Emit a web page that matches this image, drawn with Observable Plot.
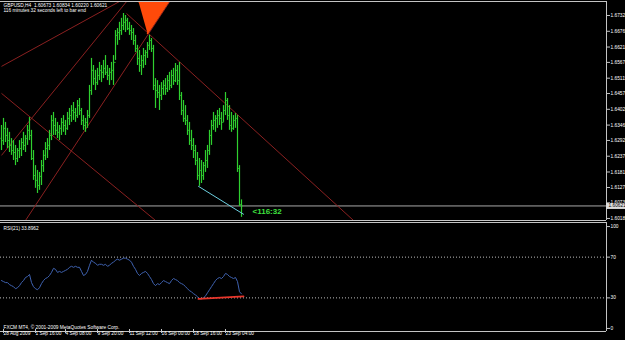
<!DOCTYPE html>
<html><head><meta charset="utf-8">
<script src="https://cdn.jsdelivr.net/npm/d3@7"></script>
<script src="https://cdn.jsdelivr.net/npm/@observablehq/plot@0.6"></script>
<style>
html,body{margin:0;padding:0;background:#000;}
#wrap{position:relative;width:625px;height:340px;background:#000;overflow:hidden;}
#main{position:absolute;left:0;top:0;}
#rsi{position:absolute;left:0;top:221px;}
svg{display:block;}
</style></head><body><div id="wrap"><div id="main"></div><div id="rsi"></div></div>
<script>
const symbolTitle = "GBPUSD,H4  1.60673 1.60834 1.60220 1.60621";
const timerText = "116 minutes 32 seconds left to bar end";
const rsiLabel = "RSI(21) 33.8962";
const countdown = "<116:32";
const copyright = "FXCM MT4, © 2001-2009 MetaQuotes Software Corp.";

const firstOpen = 1.6300;
const highs = [
 1.6345,1.6370,1.6356,1.6335,1.6321,1.6299,1.6292,1.6275,1.6264,1.6292,
 1.6299,1.6321,1.6310,1.6345,1.6373,1.6328,1.6257,1.6204,1.6187,1.6180,
 1.6222,1.6257,1.6285,1.6299,1.6328,1.6380,1.6391,1.6370,1.6356,1.6345,
 1.6370,1.6380,1.6363,1.6391,1.6405,1.6415,1.6426,1.6405,1.6433,1.6440,
 1.6405,1.6380,1.6370,1.6398,1.6486,1.6581,1.6556,1.6539,1.6546,1.6567,
 1.6556,1.6574,1.6591,1.6556,1.6546,1.6567,1.6591,1.6679,1.6686,1.6708,
 1.6722,1.6739,1.6732,1.6722,1.6708,1.6697,1.6686,1.6662,1.6627,1.6609,
 1.6591,1.6616,1.6609,1.6637,1.6662,1.6651,1.6627,1.6510,1.6503,1.6486,
 1.6496,1.6503,1.6510,1.6521,1.6532,1.6539,1.6546,1.6563,1.6556,1.6567,
 1.6461,1.6433,1.6415,1.6380,1.6356,1.6328,1.6299,1.6275,1.6250,1.6229,
 1.6222,1.6215,1.6257,1.6275,1.6328,1.6363,1.6391,1.6380,1.6398,1.6405,
 1.6391,1.6415,1.6461,1.6440,1.6415,1.6391,1.6380,1.6387,1.6380,1.6204,
 1.60834];
const lows = [
 1.6257,1.6275,1.6285,1.6264,1.6250,1.6240,1.6222,1.6204,1.6215,1.6229,
 1.6236,1.6257,1.6250,1.6275,1.6292,1.6222,1.6152,1.6124,1.6106,1.6117,
 1.6134,1.6180,1.6222,1.6229,1.6257,1.6292,1.6310,1.6310,1.6299,1.6292,
 1.6310,1.6321,1.6310,1.6328,1.6345,1.6356,1.6363,1.6356,1.6370,1.6380,
 1.6345,1.6328,1.6321,1.6335,1.6370,1.6451,1.6486,1.6468,1.6486,1.6503,
 1.6496,1.6510,1.6521,1.6503,1.6486,1.6503,1.6486,1.6574,1.6627,1.6644,
 1.6662,1.6679,1.6672,1.6679,1.6662,1.6644,1.6627,1.6602,1.6556,1.6532,
 1.6521,1.6546,1.6556,1.6581,1.6609,1.6602,1.6468,1.6405,1.6440,1.6398,
 1.6433,1.6451,1.6451,1.6461,1.6468,1.6475,1.6486,1.6496,1.6486,1.6433,
 1.6380,1.6356,1.6345,1.6310,1.6275,1.6257,1.6229,1.6204,1.6152,1.6131,
 1.6141,1.6152,1.6180,1.6194,1.6240,1.6275,1.6328,1.6321,1.6335,1.6345,
 1.6328,1.6356,1.6380,1.6363,1.6328,1.6321,1.6328,1.6335,1.6180,1.6060,
 1.60220];
const closes = [
 1.6292,1.6335,1.6310,1.6292,1.6275,1.6257,1.6250,1.6229,1.6257,1.6264,
 1.6285,1.6275,1.6299,1.6328,1.6310,1.6229,1.6169,1.6152,1.6134,1.6166,
 1.6204,1.6240,1.6264,1.6275,1.6310,1.6363,1.6345,1.6328,1.6321,1.6335,
 1.6356,1.6345,1.6335,1.6370,1.6380,1.6398,1.6391,1.6380,1.6415,1.6398,
 1.6363,1.6345,1.6356,1.6380,1.6468,1.6539,1.6510,1.6496,1.6521,1.6539,
 1.6532,1.6546,1.6532,1.6521,1.6532,1.6539,1.6567,1.6662,1.6672,1.6679,
 1.6697,1.6708,1.6715,1.6686,1.6679,1.6672,1.6644,1.6616,1.6581,1.6556,
 1.6574,1.6591,1.6602,1.6627,1.6644,1.6616,1.6486,1.6468,1.6461,1.6451,
 1.6475,1.6486,1.6475,1.6503,1.6486,1.6521,1.6503,1.6539,1.6503,1.6451,
 1.6398,1.6370,1.6363,1.6328,1.6292,1.6275,1.6257,1.6222,1.6169,1.6187,
 1.6169,1.6204,1.6222,1.6257,1.6310,1.6345,1.6363,1.6370,1.6380,1.6370,
 1.6356,1.6398,1.6433,1.6380,1.6345,1.6335,1.6363,1.6370,1.6194,1.60673,
 1.60621];
const rsiValues = [
 47,46,45,45,43,42,41,39,40,42,
 45,47,50,51,53,45,41,39,38,40,
 44,47,49,50,52,55,59,58,55,56,
 55,56,57,58,60,61,60,61,60,60,
 56,52,53,56,62,67,65,64,62,63,
 63,62,63,61,62,64,65,67,68,67,
 68,69,69,68,67,65,61,58,54,52,
 54,55,56,54,51,48,44,42,44,43,
 45,47,46,45,44,47,49,48,47,45,
 44,43,41,39,37,36,34,33,31,29,
 29,30,32,35,38,41,44,47,49,50,
 49,51,54,53,51,50,49,50,46,36,
 33.8962];

const bid = 1.60621;
const priceTicks = [1.67320,1.66765,1.66210,1.65670,1.65115,1.64575,1.64020,1.63465,1.62925,1.62370,1.61815,1.61270,1.60730,1.60180];
const rsiTicks = [0,30,70,100];
const rsiLevels = [30,70];
const timeTickBars = [0,16,31,47,63,79,95,111];
const timeTickLabels = ["28 Aug 2009","1 Sep 16:00","4 Sep 08:00","9 Sep 20:00","11 Sep 12:00","16 Sep 00:00","18 Sep 16:00","23 Sep 04:00"];

// trend lines (bar index, price)
const trendBar1 = [0, 0, 12, 62.5, 0];
const trendPrice1 = [1.6553, 1.6240, 1.6011, 1.6739, 1.6458];
const trendBar2 = [60, 63, 84.5, 176, 77];
const trendPrice2 = [1.6785, 1.6785, 1.6785, 1.6011, 1.6011];
const arrowBars = [68.5, 83.5, 73];
const arrowPrices = [1.6781, 1.6781, 1.6669];
const divBars = [98.5, 121];
const divPrices = [1.6131, 1.6033];
const divRsi = [29, 31.5];

// ---- build tables
const bars = highs.map((h, i) => ({i, high: h, low: lows[i], close: closes[i], open: i ? closes[i - 1] : firstOpen}));
const trendLines = trendBar1.map((b, k) => ({b1: b, p1: trendPrice1[k], b2: trendBar2[k], p2: trendPrice2[k]}));
const arrow = arrowBars.map((b, k) => ({bar: b, price: arrowPrices[k]}));
const divPriceLine = divBars.map((b, k) => ({bar: b, price: divPrices[k]}));
const divRsiLine = divBars.map((b, k) => ({bar: b, value: divRsi[k]}));
const rsiSeries = rsiValues.map((v, i) => ({i, v}));
const lastBar = bars.length - 1;
const labelOf = new Map(timeTickBars.map((b, k) => [b, timeTickLabels[k]]));

const X_DOMAIN = [-0.5, 302.5];
const PRICE_DOMAIN = [1.60109, 1.67812];
const RSI_DOMAIN = [-3, 104];
const FONT = "'Liberation Sans', Arial, sans-serif";
const GREEN = "#2fd02f";
const FRAME = "#c4c4c4";
const FS = 4.8;

const main = Plot.plot({
  width: 625, height: 221,
  marginLeft: 0, marginRight: 19, marginTop: 1, marginBottom: 1,
  style: {background: "#000", color: "#fff", fontFamily: FONT, fontSize: FS + "px"},
  x: {domain: X_DOMAIN, axis: null},
  y: {domain: PRICE_DOMAIN, axis: null},
  marks: [
    Plot.ruleY([bid], {stroke: "#a8a8a8"}),
    Plot.link(trendLines, {x1: "b1", y1: "p1", x2: "b2", y2: "p2", stroke: "#8a2020", clip: true}),
    Plot.ruleX(bars, {x: "i", y1: "low", y2: "high", stroke: GREEN, strokeWidth: 1.2}),
    Plot.link(bars, {x1: d => d.i - 0.5, x2: "i", y1: "open", y2: "open", stroke: GREEN}),
    Plot.link(bars, {x1: "i", x2: d => d.i + 0.5, y1: "close", y2: "close", stroke: GREEN}),
    Plot.line(arrow, {x: "bar", y: "price", fill: "#ff4a0a", stroke: "#ff4a0a", clip: true}),
    Plot.line(divPriceLine, {x: "bar", y: "price", stroke: "#6cd0e0", strokeWidth: 1}),
    Plot.text([countdown], {x: lastBar + 5.5, y: bid, dy: 5, textAnchor: "start", lineAnchor: "middle", fill: "#3fe03f", fontSize: 8, fontWeight: "bold"}),
    Plot.ruleY([PRICE_DOMAIN[1], PRICE_DOMAIN[0]], {stroke: FRAME}),
    Plot.ruleX([X_DOMAIN[1]], {stroke: FRAME}),
    Plot.axisY({anchor: "right", ticks: priceTicks, tickFormat: d3.format(".5f"), tickSize: 3, tickPadding: 1, label: null, fill: "#fff", stroke: FRAME}),
    Plot.ruleY([bid], {x1: X_DOMAIN[1], x2: X_DOMAIN[1] + 10, stroke: "#dcdcdc", strokeWidth: 6}),
    Plot.text([bid], {x: X_DOMAIN[1], y: d => d, text: d3.format(".5f"), dx: 2, textAnchor: "start", fill: "#000"}),
    Plot.text([symbolTitle], {frameAnchor: "top-left", dx: 3, dy: 4, lineAnchor: "middle", textAnchor: "start", fill: "#fff"}),
    Plot.text([timerText], {frameAnchor: "top-left", dx: 3, dy: 9, lineAnchor: "middle", textAnchor: "start", fill: "#fff"})
  ]
});
document.getElementById("main").append(main);

const rsiChart = Plot.plot({
  width: 625, height: 119,
  marginLeft: 0, marginRight: 19, marginTop: 1, marginBottom: 9,
  style: {background: "#000", color: "#fff", fontFamily: FONT, fontSize: FS + "px"},
  x: {domain: X_DOMAIN, axis: null},
  y: {domain: RSI_DOMAIN, axis: null},
  marks: [
    Plot.ruleY(rsiLevels, {stroke: "#bdbdbd", strokeDasharray: "1,2"}),
    Plot.line(rsiSeries, {x: "i", y: "v", stroke: "#3f62b0", strokeWidth: 1}),
    Plot.line(divRsiLine, {x: "bar", y: "value", stroke: "#e8362b", strokeWidth: 1.8}),
    Plot.ruleY([RSI_DOMAIN[1], RSI_DOMAIN[0]], {stroke: FRAME}),
    Plot.ruleX([X_DOMAIN[1]], {stroke: FRAME}),
    Plot.axisY({anchor: "right", ticks: rsiTicks, tickFormat: d3.format("d"), tickSize: 3, tickPadding: 1, label: null, fill: "#fff", stroke: FRAME}),
    Plot.axisX({anchor: "bottom", ticks: timeTickBars, tickFormat: d => labelOf.get(d), tickSize: 4, tickPadding: 0, textAnchor: "start", lineAnchor: "middle", dx: 2, dy: -2, label: null, fill: "#fff", stroke: FRAME}),
    Plot.text([rsiLabel], {frameAnchor: "top-left", dx: 3, dy: 6, lineAnchor: "middle", textAnchor: "start", fill: "#fff"}),
    Plot.text([copyright], {frameAnchor: "bottom-left", dx: 3, dy: -4, lineAnchor: "middle", textAnchor: "start", fill: "#fff"})
  ]
});
document.getElementById("rsi").append(rsiChart);
</script></body></html>
